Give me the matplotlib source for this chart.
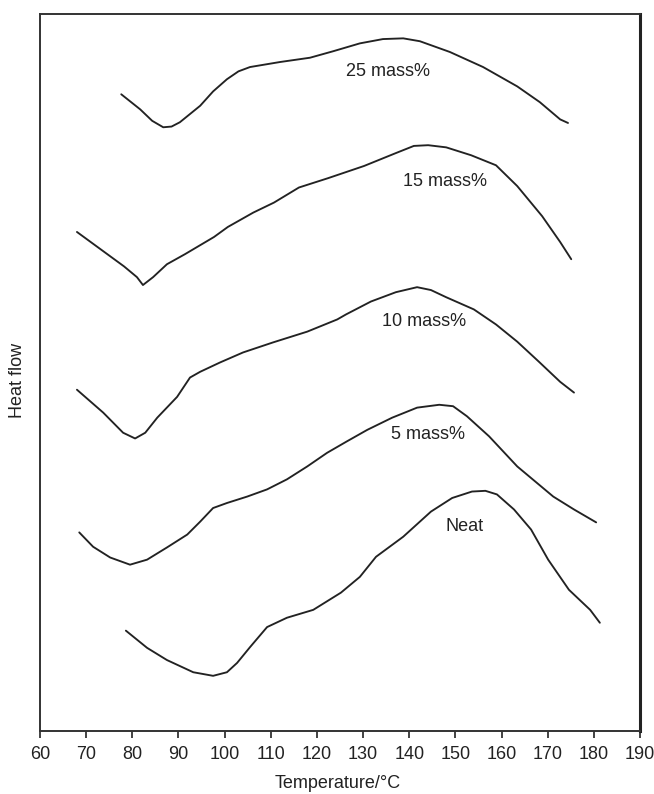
import matplotlib
matplotlib.use("Agg")
import matplotlib.pyplot as plt

plt.rcParams['font.family'] = ['Liberation Sans', 'DejaVu Sans']

# DSC curves (temperature in degC, heat flow in arbitrary units, shifted)
t_25 = [77.6, 81.7, 84.3, 86.7, 88.5, 90.3, 94.7, 97.5, 100.5, 103.0, 105.5, 112.0,
        118.5, 123.5, 129.3, 134.3, 138.7, 142.3, 148.8, 156.0, 163.4, 168.3,
        172.7, 174.4]
hf_25 = [88.8, 86.7, 85.1, 84.2, 84.3, 84.9, 87.2, 89.2, 90.9, 92.0, 92.6, 93.3,
         93.9, 94.8, 95.9, 96.5, 96.6, 96.2, 94.7, 92.6, 89.9, 87.7,
         85.3, 84.8]

t_15 = [68.0, 78.2, 81.0, 82.3, 84.5, 87.5, 91.4, 97.7, 100.7, 106.2, 110.7, 116.1,
        122.4, 130.2, 137.1, 141.0, 144.1, 148.0, 153.4, 158.8, 163.4, 168.8,
        172.7, 175.1]
hf_15 = [69.6, 64.8, 63.3, 62.2, 63.3, 65.1, 66.5, 68.9, 70.3, 72.3, 73.7, 75.8,
         77.1, 78.8, 80.6, 81.6, 81.7, 81.4, 80.3, 78.9, 76.0, 71.8,
         68.2, 65.8]

t_10 = [68.0, 73.7, 78.0, 80.6, 82.8, 85.4, 89.7, 92.5, 94.7, 99.0, 104.0, 110.5,
        117.9, 124.4, 126.3, 131.7, 137.1, 141.7, 144.7, 148.0, 154.0, 158.8,
        163.4, 168.1, 172.7, 175.7]
hf_10 = [47.6, 44.4, 41.6, 40.8, 41.6, 43.7, 46.6, 49.3, 50.1, 51.4, 52.8, 54.2,
         55.7, 57.4, 58.1, 59.9, 61.2, 61.9, 61.5, 60.5, 58.8, 56.7,
         54.3, 51.5, 48.7, 47.2]

t_5 = [68.5, 71.5, 75.2, 79.5, 83.2, 87.5, 91.9, 94.7, 97.5, 100.5, 104.9, 109.2,
       113.5, 117.9, 122.2, 126.5, 130.9, 136.3, 141.7, 146.5, 149.5, 152.5,
       157.3, 163.4, 171.2, 175.7, 180.5]
hf_5 = [27.7, 25.7, 24.2, 23.2, 23.9, 25.6, 27.4, 29.2, 31.1, 31.8, 32.7, 33.7,
        35.1, 36.9, 38.8, 40.4, 42.0, 43.7, 45.1, 45.5, 45.3, 43.9,
        41.1, 36.9, 32.7, 30.9, 29.1]

t_neat = [78.6, 83.2, 87.5, 93.2, 97.5, 100.5, 102.7, 105.5, 109.2, 113.5, 119.2,
          125.2, 129.3, 132.8, 138.7, 144.7, 149.3, 153.6, 156.5, 159.0, 162.7,
          166.4, 170.1, 174.6, 179.2, 181.3]
hf_neat = [14.0, 11.6, 9.9, 8.2, 7.7, 8.2, 9.5, 11.7, 14.5, 15.8, 16.9,
           19.3, 21.5, 24.3, 27.1, 30.6, 32.5, 33.4, 33.5, 33.0, 30.9,
           28.1, 23.9, 19.7, 16.9, 15.1]

labels = ["25 mass%", "15 mass%", "10 mass%", "5 mass%", "Neat"]
label_t = [135.4, 147.8, 143.2, 144.1, 151.9]
label_hf = [92.0, 76.7, 57.1, 41.3, 28.5]

xticks = list(range(60, 191, 10))

fig = plt.figure(figsize=(6.54, 7.94), dpi=100)
ax = fig.add_axes([0.0612, 0.0793, 0.9174, 0.9031])

ink = '#222222'
for t, hf in [(t_25, hf_25), (t_15, hf_15), (t_10, hf_10), (t_5, hf_5), (t_neat, hf_neat)]:
    ax.plot(t, hf, color=ink, lw=1.35, solid_joinstyle='round', solid_capstyle='round')

for lab, x, y in zip(labels, label_t, label_hf):
    ax.text(x, y, lab, ha='center', va='center', fontsize=13, color=ink)

ax.set_xlim(60, 190)
ax.set_ylim(0, 100)
ax.set_xticks(xticks)
ax.tick_params(axis='x', direction='out', length=5, width=1.2, pad=6,
               labelsize=13, colors=ink)
ax.tick_params(axis='y', left=False, labelleft=False)

for side in ['top', 'left', 'bottom']:
    ax.spines[side].set_linewidth(1.4)
    ax.spines[side].set_color('#333333')
ax.spines['right'].set_linewidth(2.2)
ax.spines['right'].set_color('#222222')

fig.text(338 / 654, 11 / 794, "Temperature/\u00b0C", ha='center', va='center',
         fontsize=13, color=ink)
fig.text(18 / 654, 1 - 380 / 794, "Heat flow", ha='center', va='center',
         rotation=90, fontsize=13, color=ink)

fig.savefig("out.png", dpi=100)
